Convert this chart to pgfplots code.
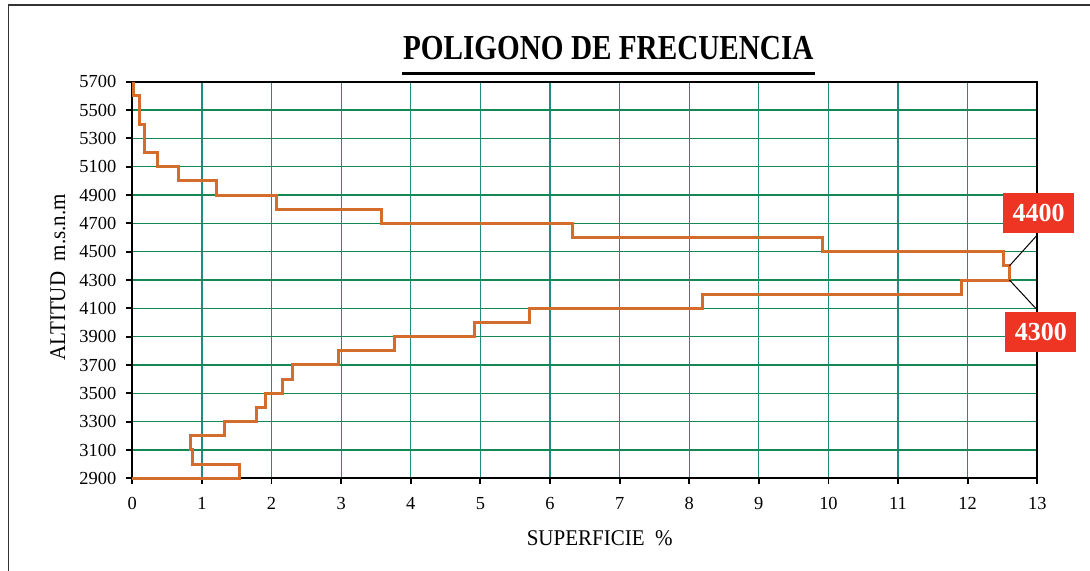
\documentclass[border=0pt]{standalone}
\usepackage{pgfplots}
\pgfplotsset{compat=1.18}
\usepackage{fontspec}
\setmainfont{Liberation Serif}
\definecolor{lineor}{RGB}{212,108,44}
\definecolor{vgrid}{RGB}{30,140,130}
\definecolor{hgrid}{RGB}{20,135,85}
\definecolor{boxred}{RGB}{238,53,36}
\begin{document}
\begin{tikzpicture}
\useasboundingbox (0,0) rectangle (545pt,-285.5pt);
% outer chart border
\draw[line width=0.7pt,black!80] (4.15pt,-290pt) -- (4.15pt,-2.5pt) -- (550pt,-2.5pt);
% title
\node[anchor=base,inner sep=0pt] at (304.15pt,-30pt) {\scalebox{1}[1.2]{\fontsize{14.6}{16}\selectfont\bfseries POLIGONO DE FRECUENCIA}};
\fill (201pt,-35.9pt) rectangle (407.5pt,-37.5pt);
% axis labels
\node[anchor=base,inner sep=0pt] at (299.85pt,-272.5pt) {\scalebox{1}[1.07]{\fontsize{10.5}{12}\selectfont SUPERFICIE\ \ \%}};
\node[anchor=base,inner sep=0pt,rotate=90] at (32.5pt,-138.75pt) {\scalebox{1}[1.07]{\fontsize{10.5}{12}\selectfont ALTITUD\ \ m.s.n.m}};
\begin{axis}[
  at={(66.15pt,-239.15pt)}, anchor=south west,
  width=452.5pt, height=198.3pt, scale only axis,
  xmin=0, xmax=13, ymin=2900, ymax=5700,
  xtick={0,1,...,13}, ytick={2900,3100,...,5700},
  tick pos=left,
  tick align=outside,
  major tick length=3pt,
  every tick/.style={black, line width=0.9pt},
  axis line style={black, line width=0.9pt},
  xmajorgrids, ymajorgrids,
  x grid style={vgrid, line width=0.6pt},
  y grid style={hgrid, line width=0.6pt},
  /pgf/number format/assume math mode=true,
  /pgf/number format/1000 sep={},
  ticklabel style={font=\fontsize{9.2}{11}\selectfont, text=black},
  xticklabel style={yshift=-3pt},
  yticklabel style={xshift=-1.5pt},
  clip=false,
]
\addplot[lineor, line width=1.5pt, line join=miter] coordinates {
(0,2900) (1.54,2900) (1.54,3000) (0.86,3000) (0.86,3100) (0.83,3100) (0.83,3200)
(1.32,3200) (1.32,3300) (1.79,3300) (1.79,3400) (1.92,3400) (1.92,3500)
(2.16,3500) (2.16,3600) (2.30,3600) (2.30,3700) (2.96,3700) (2.96,3800)
(3.76,3800) (3.76,3900) (4.91,3900) (4.91,4000) (5.71,4000) (5.71,4100)
(8.19,4100) (8.19,4200) (11.91,4200) (11.91,4300) (12.60,4300) (12.60,4400)
(12.51,4400) (12.51,4500) (9.91,4500) (9.91,4600) (6.33,4600) (6.33,4700)
(3.58,4700) (3.58,4800) (2.07,4800) (2.07,4900) (1.21,4900) (1.21,5000)
(0.66,5000) (0.66,5100) (0.36,5100) (0.36,5200) (0.18,5200) (0.18,5400)
(0.11,5400) (0.11,5600) (0.014,5600) (0.014,5700)
};
\draw[black, line width=0.5pt] (axis cs:13.0,4618) -- (axis cs:12.60,4400);
\draw[black, line width=0.5pt] (axis cs:13.0,4088) -- (axis cs:12.60,4300);
\node[fill=boxred, text=white, minimum width=35.5pt, minimum height=20pt, inner sep=0pt, font=\fontsize{13}{14}\selectfont\bfseries] at (axis cs:13.02,4773) {4400};
\node[fill=boxred, text=white, minimum width=35.5pt, minimum height=20pt, inner sep=0pt, font=\fontsize{13}{14}\selectfont\bfseries] at (axis cs:13.05,3933) {4300};
\end{axis}
\end{tikzpicture}
\end{document}
